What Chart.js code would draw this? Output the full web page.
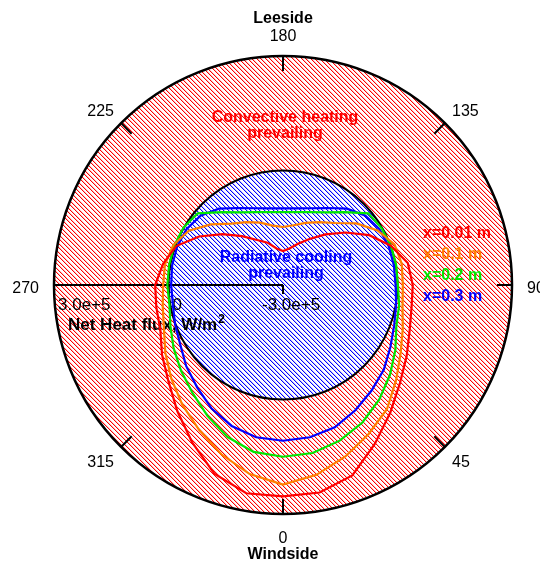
<!DOCTYPE html>
<html>
<head>
<meta charset="utf-8">
<title>Net heat flux around the cylinder</title>
<script src="https://cdn.jsdelivr.net/npm/chart.js@4.4.1/dist/chart.umd.min.js"></script>
<style>
  html, body { margin: 0; padding: 0; background: #ffffff; }
  canvas { display: block; }
</style>
</head>
<body>
<canvas id="flux" width="540" height="565"></canvas>
<script>
// Angular position on the surface, degrees (0 = windside, 180 = leeside)
const angleDeg = [0, 10, 20, 30, 40, 50, 60, 70, 80, 90, 100, 110, 120, 130, 140, 150, 160, 170,
                  180, 190, 200, 210, 220, 230, 240, 250, 260, 270, 280, 290, 300, 310, 320, 330, 340, 350];

// Net heat flux, W/m^2, at four distances x from the leading edge
const fluxX001 = [254000, 252000, 231000, 181000, 137000, 100000, 74000, 53000, 42000, 40000, 32000, 1000,
                  -39000, -86000, -127000, -161000, -185000, -203000, -211000, -203000, -182000, -164000,
                  -133000, -93000, -46000, -2000, 19000, 35000, 37000, 42000, 66000, 92000, 131000, 176000,
                  226000, 254000];
const fluxX01  = [223000, 205000, 178000, 150000, 124000, 87000, 56000, 34000, 18000, 14000, 16000, 11000,
                  -14000, -49000, -88000, -110000, -127000, -141000, -148000, -142000, -126000, -110000,
                  -90000, -53000, -15000, 6000, 14000, 14000, 20000, 32000, 56000, 82000, 110000, 139000,
                  172000, 203000];
const fluxX02  = [150000, 147000, 134000, 116000, 92000, 66000, 40000, 16000, 9000, 1000, 1000, 1000,
                  -2000, -8000, -51000, -80000, -97000, -106000, -109000, -106000, -97000, -80000,
                  -51000, -8000, 1000, 3000, 3000, 3000, 2000, 14000, 31000, 49000, 69000, 96000,
                  124000, 144000];
const fluxX03  = [108000, 105000, 97000, 79000, 61000, 45000, 25000, 10000, 1000, -5000, -5000, -5000,
                  -8000, -18000, -39000, -67000, -86000, -96000, -99000, -96000, -86000, -67000,
                  -39000, -18000, -8000, -5000, -5000, -7000, -7000, 1000, 11000, 31000, 50000, 74000,
                  93000, 105000];

const seriesNames  = ['x=0.01 m', 'x=0.1 m', 'x=0.2 m', 'x=0.3 m'];
const seriesColors = ['#ff0000', '#ff8000', '#00e600', '#0000ff'];

// Compass tick marks and radial axis ticks
const compassTicks    = [0, 45, 90, 135, 180, 225, 270, 315];
const radialTicks     = [300000, 0, -300000];
const radialTickLabel = ['3.0e+5', '0', '-3.0e+5'];
const radialMin = -300000, radialMax = 300000;

const FONT = '"Liberation Sans", Arial, Helvetica, sans-serif';

// Radar charts run clockwise from the start angle; flux angles grow the other way,
// so the samples are fed in reverse order starting from 0 deg at the bottom.
const N = angleDeg.length;
const order = angleDeg.map((_, i) => (N - i) % N);
const seriesData = [fluxX001, fluxX01, fluxX02, fluxX03];

function hatchPattern(ctx, r, g, b) {
  const size = 9;
  const tile = document.createElement('canvas');
  tile.width = tile.height = size;
  const tg = tile.getContext('2d');
  const img = tg.createImageData(size, size);
  for (let y = 0; y < size; y++) {
    for (let x = 0; x < size; x++) {
      const i = (y * size + x) * 4;
      img.data[i] = 255; img.data[i + 1] = 255; img.data[i + 2] = 255; img.data[i + 3] = 255;
    }
    // two "\" strokes per tile, each one full pixel plus a soft edge
    [[0, 1], [1, 0.25], [4, 1], [5, 0.25]].forEach(([k, a]) => {
      const x = (y + k) % size;
      const i = (y * size + x) * 4;
      img.data[i]     = Math.round(255 * (1 - a) + r * a);
      img.data[i + 1] = Math.round(255 * (1 - a) + g * a);
      img.data[i + 2] = Math.round(255 * (1 - a) + b * a);
    });
  }
  tg.putImageData(img, 0, 0);
  return ctx.createPattern(tile, 'repeat');
}

function screenAngle(theta) {
  // 0 deg points down, 90 deg to the right, 180 deg up
  return (90 - theta) * Math.PI / 180;
}

const polarFrame = {
  id: 'polarFrame',
  beforeDatasetsDraw(chart) {
    const ctx = chart.ctx;
    const s = chart.scales.r;
    const cx = s.xCenter, cy = s.yCenter, R = s.drawingArea;
    const r0 = s.getDistanceFromCenterForValue(0);

    ctx.save();
    // heating zone (flux > 0) and cooling zone (flux < 0)
    ctx.fillStyle = hatchPattern(ctx, 255, 0, 0);
    ctx.beginPath(); ctx.arc(cx, cy, R, 0, Math.PI * 2); ctx.fill();
    ctx.fillStyle = '#ffffff';
    ctx.beginPath(); ctx.arc(cx, cy, r0, 0, Math.PI * 2); ctx.fill();
    ctx.fillStyle = hatchPattern(ctx, 0, 0, 255);
    ctx.fill();

    // zone captions
    ctx.textAlign = 'center';
    ctx.textBaseline = 'alphabetic';
    ctx.font = 'bold 16px ' + FONT;
    ctx.fillStyle = '#ff0000';
    ctx.fillText('Convective heating', cx + 2, cy - 163);
    ctx.fillText('prevailing', cx + 2, cy - 147);
    ctx.fillStyle = '#0000ff';
    ctx.fillText('Radiative cooling', cx + 3, cy - 23);
    ctx.fillText('prevailing', cx + 3, cy - 7);

    // series captions
    ctx.textAlign = 'left';
    seriesNames.forEach((name, i) => {
      ctx.fillStyle = seriesColors[i];
      ctx.fillText(name, cx + 140, cy - 47 + i * 21);
    });

    // radial axis tick labels and title
    ctx.fillStyle = '#000000';
    ctx.font = '17px ' + FONT;
    const shift = [4, 4, -21];
    radialTicks.forEach((v, i) => {
      const x = cx - s.getDistanceFromCenterForValue(v);
      ctx.fillText(radialTickLabel[i], x + shift[i], cy + 25);
    });
    ctx.font = 'bold 17px ' + FONT;
    const title = 'Net Heat flux, W/m';
    const tx = cx - 215;
    ctx.fillText(title, tx, cy + 45);
    const tw = ctx.measureText(title).width;
    ctx.font = 'bold 12px ' + FONT;
    ctx.fillText('2', tx + tw + 1, cy + 38);

    // outer and zero-flux circles
    ctx.strokeStyle = '#000000';
    ctx.lineWidth = 2.5;
    ctx.beginPath(); ctx.arc(cx, cy, R, 0, Math.PI * 2); ctx.stroke();
    ctx.lineWidth = 2;
    ctx.beginPath(); ctx.arc(cx, cy, r0, 0, Math.PI * 2); ctx.stroke();

    // compass ticks
    ctx.lineWidth = 2;
    compassTicks.forEach(t => {
      const a = screenAngle(t);
      ctx.beginPath();
      ctx.moveTo(cx + R * Math.cos(a), cy + R * Math.sin(a));
      ctx.lineTo(cx + (R - 15) * Math.cos(a), cy + (R - 15) * Math.sin(a));
      ctx.stroke();
    });

    // radial axis drawn along 270 deg
    ctx.beginPath();
    ctx.moveTo(cx, cy);
    ctx.lineTo(cx - R, cy);
    radialTicks.forEach(v => {
      const x = cx - s.getDistanceFromCenterForValue(v);
      ctx.moveTo(x, cy);
      ctx.lineTo(x, cy + 9);
    });
    ctx.stroke();
    ctx.restore();
  },
  afterDraw(chart) {
    const ctx = chart.ctx;
    const s = chart.scales.r;
    const cx = s.xCenter, cy = s.yCenter, R = s.drawingArea;
    const cap = 11.5;
    ctx.save();
    ctx.fillStyle = '#000000';
    ctx.font = '16px ' + FONT;
    ctx.textBaseline = 'alphabetic';
    compassTicks.forEach(t => {
      const a = screenAngle(t);
      const ux = Math.cos(a), uy = Math.sin(a);
      const diag = Math.abs(ux) > 0.1 && Math.abs(uy) > 0.1;
      const d = R + (diag ? 10 : 15);
      const x = cx + d * ux, y = cy + d * uy;
      ctx.textAlign = ux > 0.1 ? 'left' : (ux < -0.1 ? 'right' : 'center');
      let base;
      if (uy > 0.1) base = y + cap + 2;
      else if (uy < -0.1) base = y;
      else base = y + cap / 2 + 2;
      ctx.fillText(String(t), x, base);
    });
    ctx.font = 'bold 16px ' + FONT;
    ctx.textAlign = 'center';
    ctx.fillText('Leeside', cx, cy - R - 33);
    ctx.fillText('Windside', cx, cy + R + 45);
    ctx.restore();
  }
};

new Chart(document.getElementById('flux'), {
  type: 'radar',
  data: {
    labels: order.map(i => angleDeg[i]),
    datasets: seriesData.map((vals, k) => ({
      label: seriesNames[k],
      data: order.map(i => vals[i]),
      borderColor: seriesColors[k],
      backgroundColor: seriesColors[k],
      borderWidth: 2.2,
      fill: false,
      pointRadius: 0,
      pointHoverRadius: 0,
      tension: 0
    }))
  },
  options: {
    responsive: false,
    devicePixelRatio: 1,
    animation: false,
    layout: { padding: { left: 54, right: 27, top: 56, bottom: 50 } },
    plugins: {
      legend: { display: false },
      tooltip: { enabled: false }
    },
    scales: {
      r: {
        min: radialMin,
        max: radialMax,
        startAngle: 180,
        beginAtZero: false,
        grid: { display: false },
        angleLines: { display: false },
        pointLabels: { display: false },
        ticks: { display: false }
      }
    }
  },
  plugins: [polarFrame]
});
</script>
</body>
</html>
